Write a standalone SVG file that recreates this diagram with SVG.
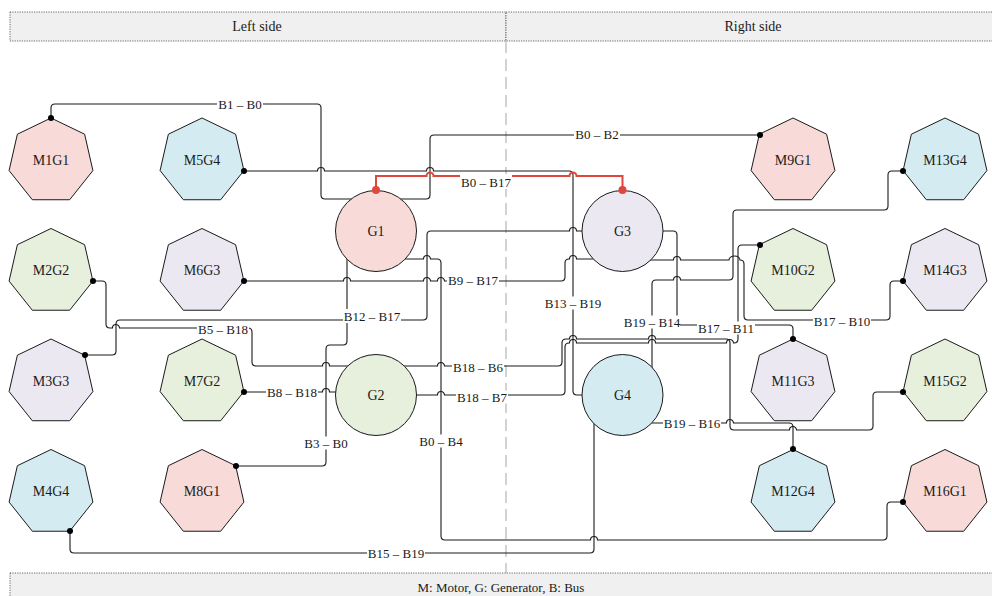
<svg xmlns="http://www.w3.org/2000/svg" xmlns:xlink="http://www.w3.org/1999/xlink" width="992" height="596" viewBox="0 0 992 596">
<style>
.c{fill:none;stroke:#1a1a1a;stroke-width:1.1}
.red{fill:none;stroke:#e0473c;stroke-width:2}
.n{stroke:#1a1a1a;stroke-width:1}
.pk{fill:#f8dbd9}.bl{fill:#d4ecf1}.gr{fill:#e6f0dd}.pu{fill:#ece8f1}
text{font-family:"Liberation Serif","Times New Roman",serif;fill:#1a1a1a}
.nt{font-size:14px;text-anchor:middle}
.lt{font-size:13px;text-anchor:middle}
.bg{fill:#fff}
.dot{fill:#000}
.rdot{fill:#e0473c}
.hdr{fill:#f0f0f0;stroke:#444;stroke-width:0.8;stroke-dasharray:1.2,1.2}
.sep{stroke:#c4c4c4;stroke-width:1.5;stroke-dasharray:12,6}
</style>
<defs>
<polygon id="hep" points="0,-43 33.62,-26.81 41.92,9.57 18.66,38.74 -18.66,38.74 -41.92,9.57 -33.62,-26.81"/>
</defs>
<rect width="992" height="596" fill="#fff"/>
<g id="headers">
<rect class="hdr" x="10" y="12" width="496" height="29"/>
<rect class="hdr" x="506" y="12" width="500" height="29"/>
<text class="nt" x="257" y="31">Left side</text>
<text class="nt" x="753" y="31">Right side</text>
<line class="sep" x1="506" y1="41" x2="506" y2="573"/>
<rect class="hdr" x="10" y="573" width="995" height="40"/>
<text class="lt" x="501" y="592">M: Motor, G: Generator, B: Bus</text>
</g>
<g id="connectors">
<path class="c" d="M51,118 V108 Q51,104 55,104 H317 Q321,104 321,108 V195 Q321,199 325,199 H376"/>
<path class="c" d="M376,199 H426 Q430,199 430,195 V139 Q430,135 434,135 H760"/>
<path class="c" d="M244,171 H317.5 a3.5,3.5 0 0 1 7,0 H426.5 a3.5,3.5 0 0 1 7,0 H569 Q573,171 573,175 V391 Q573,395 577,395 H622"/>
<path class="c" d="M244,281 H343.5 a3.5,3.5 0 0 1 7,0 H423.5 a3.5,3.5 0 0 1 7,0 H437.5 a3.5,3.5 0 0 1 7,0 H561 Q565,281 565,277 V263 Q565,259 569,259 H569.5 a3.5,3.5 0 0 1 7,0 H622"/>
<path class="c" d="M85,355 H112 Q116,355 116,351 V324 Q116,320 120,320 H423 Q427,320 427,316 V235 Q427,231 431,231 H569.5 a3.5,3.5 0 0 1 7,0 H622"/>
<path class="c" d="M376,259 H423.5 a3.5,3.5 0 0 1 7,0 H437 Q441,259 441,263 V536 Q441,540 445,540 H590.5 a3.5,3.5 0 0 1 7,0 H883 Q887,540 887,536 V506 Q887,502 891,502 H903"/>
<path class="c" d="M236,466 H322 Q326,466 326,462 V349 Q326,345 330,345 H343 Q347,345 347,341 V231"/>
<path class="c" d="M93,281 H102 Q106,281 106,285 V324 Q106,328 110,328 H112.5 a3.5,3.5 0 0 1 7,0 H248 Q252,328 252,332 V362 Q252,366 256,366 H322.5 a3.5,3.5 0 0 1 7,0 H376"/>
<path class="c" d="M244,392 H322.5 a3.5,3.5 0 0 1 7,0 H376"/>
<path class="c" d="M376,366 H437.5 a3.5,3.5 0 0 1 7,0 H558 Q562,366 562,362 V343 Q562,339 566,339 H569.5 a3.5,3.5 0 0 1 7,0 H648.5 a3.5,3.5 0 0 1 7,0 H726 Q730,339 730,343 V426 Q730,430 734,430 H789.5 a3.5,3.5 0 0 1 7,0 H869 Q873,430 873,426 V396 Q873,392 877,392 H903"/>
<path class="c" d="M376,395 H437.5 a3.5,3.5 0 0 1 7,0 H561 Q565,395 565,391 V347 Q565,343 569,343 H569.5 a3.5,3.5 0 0 1 7,0 H648.5 a3.5,3.5 0 0 1 7,0 H726.5 a3.5,3.5 0 0 1 7,0 H734 Q738,343 738,339 V249 Q738,245 742,245 H760"/>
<path class="c" d="M652,380 V284 Q652,280 656,280 H673.5 a3.5,3.5 0 0 1 7,0 H729 Q733,280 733,276 V214 Q733,210 737,210 H884 Q888,210 888,206 V175 Q888,171 892,171 H903"/>
<path class="c" d="M622,260 H673.5 a3.5,3.5 0 0 1 7,0 H729 a5.5,4 0 0 1 11,0 Q744,260 744,264 V316 Q744,320 748,320 H886 Q890,320 890,316 V285 Q890,281 894,281 H903"/>
<path class="c" d="M622,231 H673 Q677,231 677,235 V321 Q677,325 681,325 H789 Q793,325 793,329 V339"/>
<path class="c" d="M622,423 H726.5 a3.5,3.5 0 0 1 7,0 H789 Q793,423 793,427 V449"/>
<path class="c" d="M70,531 V549 Q70,553 74,553 H590 Q594,553 594,549 V395"/>
<path class="red" d="M376,190 V176 H426.5 a3.5,3.5 0 0 1 7,0 H569.5 a3.5,3.5 0 0 1 7,0 H622.5 V190"/>
<g id="labels">
<rect class="bg" x="217" y="97.5" width="46" height="13"/><text class="lt" x="240" y="108.5">B1 – B0</text>
<rect class="bg" x="574" y="127.5" width="46" height="13"/><text class="lt" x="597" y="138.5">B0 – B2</text>
<rect class="bg" x="460" y="174" width="52" height="15"/><text class="lt" x="486" y="186.5">B0 – B17</text>
<rect class="bg" x="447" y="273.5" width="52" height="13"/><text class="lt" x="473" y="284.5">B9 – B17</text>
<rect class="bg" x="343" y="309" width="58" height="14"/><text class="lt" x="372" y="320.5">B12 – B17</text>
<rect class="bg" x="197" y="322.5" width="52" height="13"/><text class="lt" x="223" y="333.5">B5 – B18</text>
<rect class="bg" x="266" y="385.5" width="52" height="13"/><text class="lt" x="292" y="396.5">B8 – B18</text>
<rect class="bg" x="303" y="436.5" width="46" height="13"/><text class="lt" x="326" y="447.5">B3 – B0</text>
<rect class="bg" x="452" y="360.5" width="52" height="13"/><text class="lt" x="478" y="371.5">B18 – B6</text>
<rect class="bg" x="456" y="390.5" width="52" height="13"/><text class="lt" x="482" y="401.5">B18 – B7</text>
<rect class="bg" x="418" y="434.5" width="46" height="13"/><text class="lt" x="441" y="445.5">B0 – B4</text>
<rect class="bg" x="544" y="296.5" width="58" height="13"/><text class="lt" x="573" y="307.5">B13 – B19</text>
<rect class="bg" x="624" y="315.5" width="56" height="13"/><text class="lt" x="652" y="326.5">B19 – B14</text>
<rect class="bg" x="697" y="321.5" width="58" height="13"/><text class="lt" x="726" y="332.5">B17 – B11</text>
<rect class="bg" x="813" y="314.5" width="58" height="13"/><text class="lt" x="842" y="325.5">B17 – B10</text>
<rect class="bg" x="663" y="416.5" width="58" height="13"/><text class="lt" x="692" y="427.5">B19 – B16</text>
<rect class="bg" x="367" y="546.5" width="58" height="13"/><text class="lt" x="396" y="557.5">B15 – B19</text>
</g>
</g>
<g id="M1G1"><use href="#hep" x="51" y="161" class="n pk"/><text class="nt" x="51" y="165">M1G1</text></g>
<g id="M2G2"><use href="#hep" x="51" y="271.5" class="n gr"/><text class="nt" x="51" y="275">M2G2</text></g>
<g id="M3G3"><use href="#hep" x="51" y="382" class="n pu"/><text class="nt" x="51" y="386">M3G3</text></g>
<g id="M4G4"><use href="#hep" x="51" y="492.5" class="n bl"/><text class="nt" x="51" y="496">M4G4</text></g>
<g id="M5G4"><use href="#hep" x="202" y="161" class="n bl"/><text class="nt" x="202" y="165">M5G4</text></g>
<g id="M6G3"><use href="#hep" x="202" y="271.5" class="n pu"/><text class="nt" x="202" y="275">M6G3</text></g>
<g id="M7G2"><use href="#hep" x="202" y="382" class="n gr"/><text class="nt" x="202" y="386">M7G2</text></g>
<g id="M8G1"><use href="#hep" x="202" y="492.5" class="n pk"/><text class="nt" x="202" y="496">M8G1</text></g>
<g id="M9G1"><use href="#hep" x="793" y="161" class="n pk"/><text class="nt" x="793" y="165">M9G1</text></g>
<g id="M10G2"><use href="#hep" x="793" y="271.5" class="n gr"/><text class="nt" x="793" y="275">M10G2</text></g>
<g id="M11G3"><use href="#hep" x="793" y="382" class="n pu"/><text class="nt" x="793" y="386">M11G3</text></g>
<g id="M12G4"><use href="#hep" x="793" y="492.5" class="n bl"/><text class="nt" x="793" y="496">M12G4</text></g>
<g id="M13G4"><use href="#hep" x="945" y="161" class="n bl"/><text class="nt" x="945" y="165">M13G4</text></g>
<g id="M14G3"><use href="#hep" x="945" y="271.5" class="n pu"/><text class="nt" x="945" y="275">M14G3</text></g>
<g id="M15G2"><use href="#hep" x="945" y="382" class="n gr"/><text class="nt" x="945" y="386">M15G2</text></g>
<g id="M16G1"><use href="#hep" x="945" y="492.5" class="n pk"/><text class="nt" x="945" y="496">M16G1</text></g>
<g id="G1"><circle class="n pk" cx="376" cy="231" r="40.5"/><text class="nt" x="376" y="235.5">G1</text></g>
<g id="G2"><circle class="n gr" cx="376" cy="395" r="40.5"/><text class="nt" x="376" y="399.5">G2</text></g>
<g id="G3"><circle class="n pu" cx="622.5" cy="231" r="40.5"/><text class="nt" x="622.5" y="235.5">G3</text></g>
<g id="G4"><circle class="n bl" cx="622.5" cy="395" r="40.5"/><text class="nt" x="622.5" y="399.5">G4</text></g>
<g id="connector-ends">
<circle class="dot" cx="51" cy="118" r="3"/>
<circle class="dot" cx="244" cy="171" r="3"/>
<circle class="dot" cx="244" cy="281" r="3"/>
<circle class="dot" cx="93" cy="281" r="3"/>
<circle class="dot" cx="85" cy="355" r="3"/>
<circle class="dot" cx="244" cy="392" r="3"/>
<circle class="dot" cx="236" cy="466" r="3"/>
<circle class="dot" cx="70" cy="531" r="3"/>
<circle class="dot" cx="760" cy="135" r="3"/>
<circle class="dot" cx="903" cy="171" r="3"/>
<circle class="dot" cx="760" cy="245" r="3"/>
<circle class="dot" cx="903" cy="281" r="3"/>
<circle class="dot" cx="793" cy="339" r="3"/>
<circle class="dot" cx="903" cy="392" r="3"/>
<circle class="dot" cx="793" cy="449" r="3"/>
<circle class="dot" cx="903" cy="502" r="3"/>
<circle class="rdot" cx="376" cy="190" r="4"/>
<circle class="rdot" cx="622.5" cy="190" r="4"/>
</g>
</svg>
